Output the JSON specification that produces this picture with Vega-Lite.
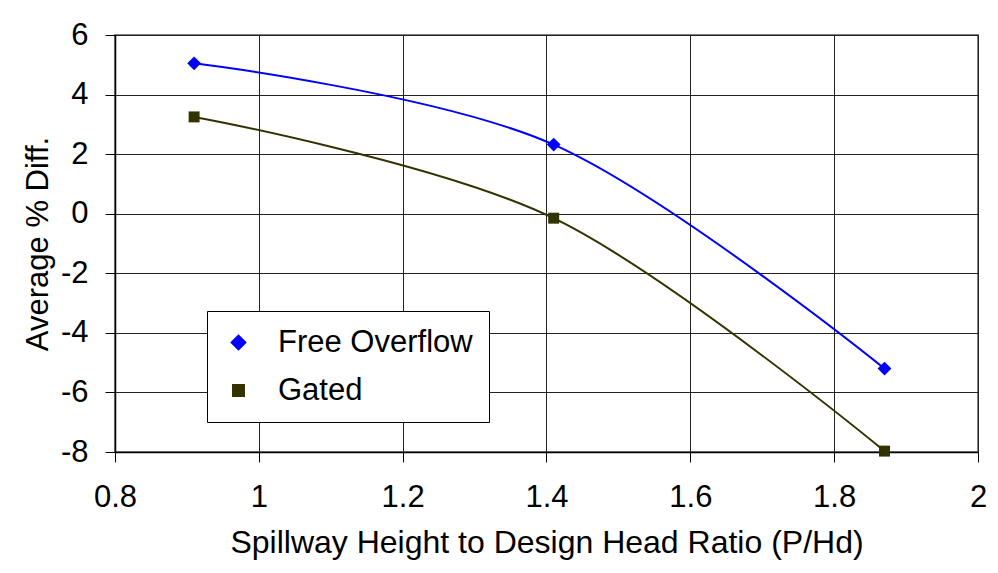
{
  "$schema": "https://vega.github.io/schema/vega-lite/v6.json",
  "autosize": {"type": "none"},
  "width": 863,
  "height": 417,
  "padding": {"left": 115, "top": 35, "right": 20, "bottom": 121},
  "background": "white",
  "data": {
    "values": [
      {"ratio": 0.91, "diff": 5.05, "series": "Free Overflow"},
      {"ratio": 1.41, "diff": 2.32, "series": "Free Overflow"},
      {"ratio": 1.87, "diff": -5.2, "series": "Free Overflow"},
      {"ratio": 0.91, "diff": 3.25, "series": "Gated"},
      {"ratio": 1.41, "diff": -0.15, "series": "Gated"},
      {"ratio": 1.87, "diff": -7.97, "series": "Gated"}
    ]
  },
  "config": {
    "font": "Liberation Sans",
    "view": {"stroke": "#808080", "strokeWidth": 2},
    "axis": {
      "labelFont": "Liberation Sans",
      "titleFont": "Liberation Sans",
      "labelFontSize": 31,
      "titleFontSize": 31,
      "labelColor": "#000",
      "titleColor": "#000",
      "titleFontWeight": "normal",
      "domainColor": "#000",
      "domainWidth": 1.5,
      "tickColor": "#000",
      "tickWidth": 1,
      "tickSize": 10,
      "gridColor": "#222",
      "gridWidth": 1,
      "gridOpacity": 1
    }
  },
  "encoding": {
    "x": {
      "field": "ratio",
      "type": "quantitative",
      "scale": {"domain": [0.8, 2], "nice": false, "zero": false},
      "axis": {
        "title": "Spillway Height to Design Head Ratio (P/Hd)",
        "titleFontSize": 32,
        "values": [0.8, 1, 1.2, 1.4, 1.6, 1.8, 2],
        "labelExpr": "'' + datum.value",
        "labelPadding": 20,
        "titlePadding": 15,
        "labelFlush": false
      }
    },
    "y": {
      "field": "diff",
      "type": "quantitative",
      "scale": {"domain": [-8, 6], "nice": false, "zero": false},
      "axis": {
        "title": "Average % Diff.",
        "values": [-8, -6, -4, -2, 0, 2, 4, 6],
        "labelExpr": "datum.value < 0 ? '-' + abs(datum.value) : '' + datum.value",
        "labelPadding": 17,
        "titlePadding": 6
      }
    },
    "color": {
      "field": "series",
      "type": "nominal",
      "scale": {"domain": ["Free Overflow", "Gated"], "range": ["#0000FF", "#333300"]},
      "legend": {
        "title": null,
        "orient": "none",
        "legendX": 92,
        "legendY": 276,
        "labelFont": "Liberation Sans",
        "labelFontSize": 31,
        "labelLimit": 500,
        "labelColor": "#000",
        "strokeColor": "#000",
        "fillColor": "white",
        "padding": 16,
        "symbolSize": 1600,
        "symbolStrokeWidth": 2,
        "labelOffset": 24,
        "rowPadding": 16
      }
    }
  },
  "layer": [
    {
      "mark": {"type": "line", "interpolate": "cardinal", "tension": 0, "strokeWidth": 2},
      "encoding": {}
    },
    {
      "mark": {"type": "point", "filled": true, "opacity": 1},
      "encoding": {
        "shape": {
          "field": "series",
          "type": "nominal",
          "scale": {"domain": ["Free Overflow", "Gated"], "range": ["diamond", "square"]},
          "legend": null
        },
        "size": {
          "field": "series",
          "type": "nominal",
          "scale": {"domain": ["Free Overflow", "Gated"], "range": [190, 120]},
          "legend": null
        }
      }
    }
  ]
}
